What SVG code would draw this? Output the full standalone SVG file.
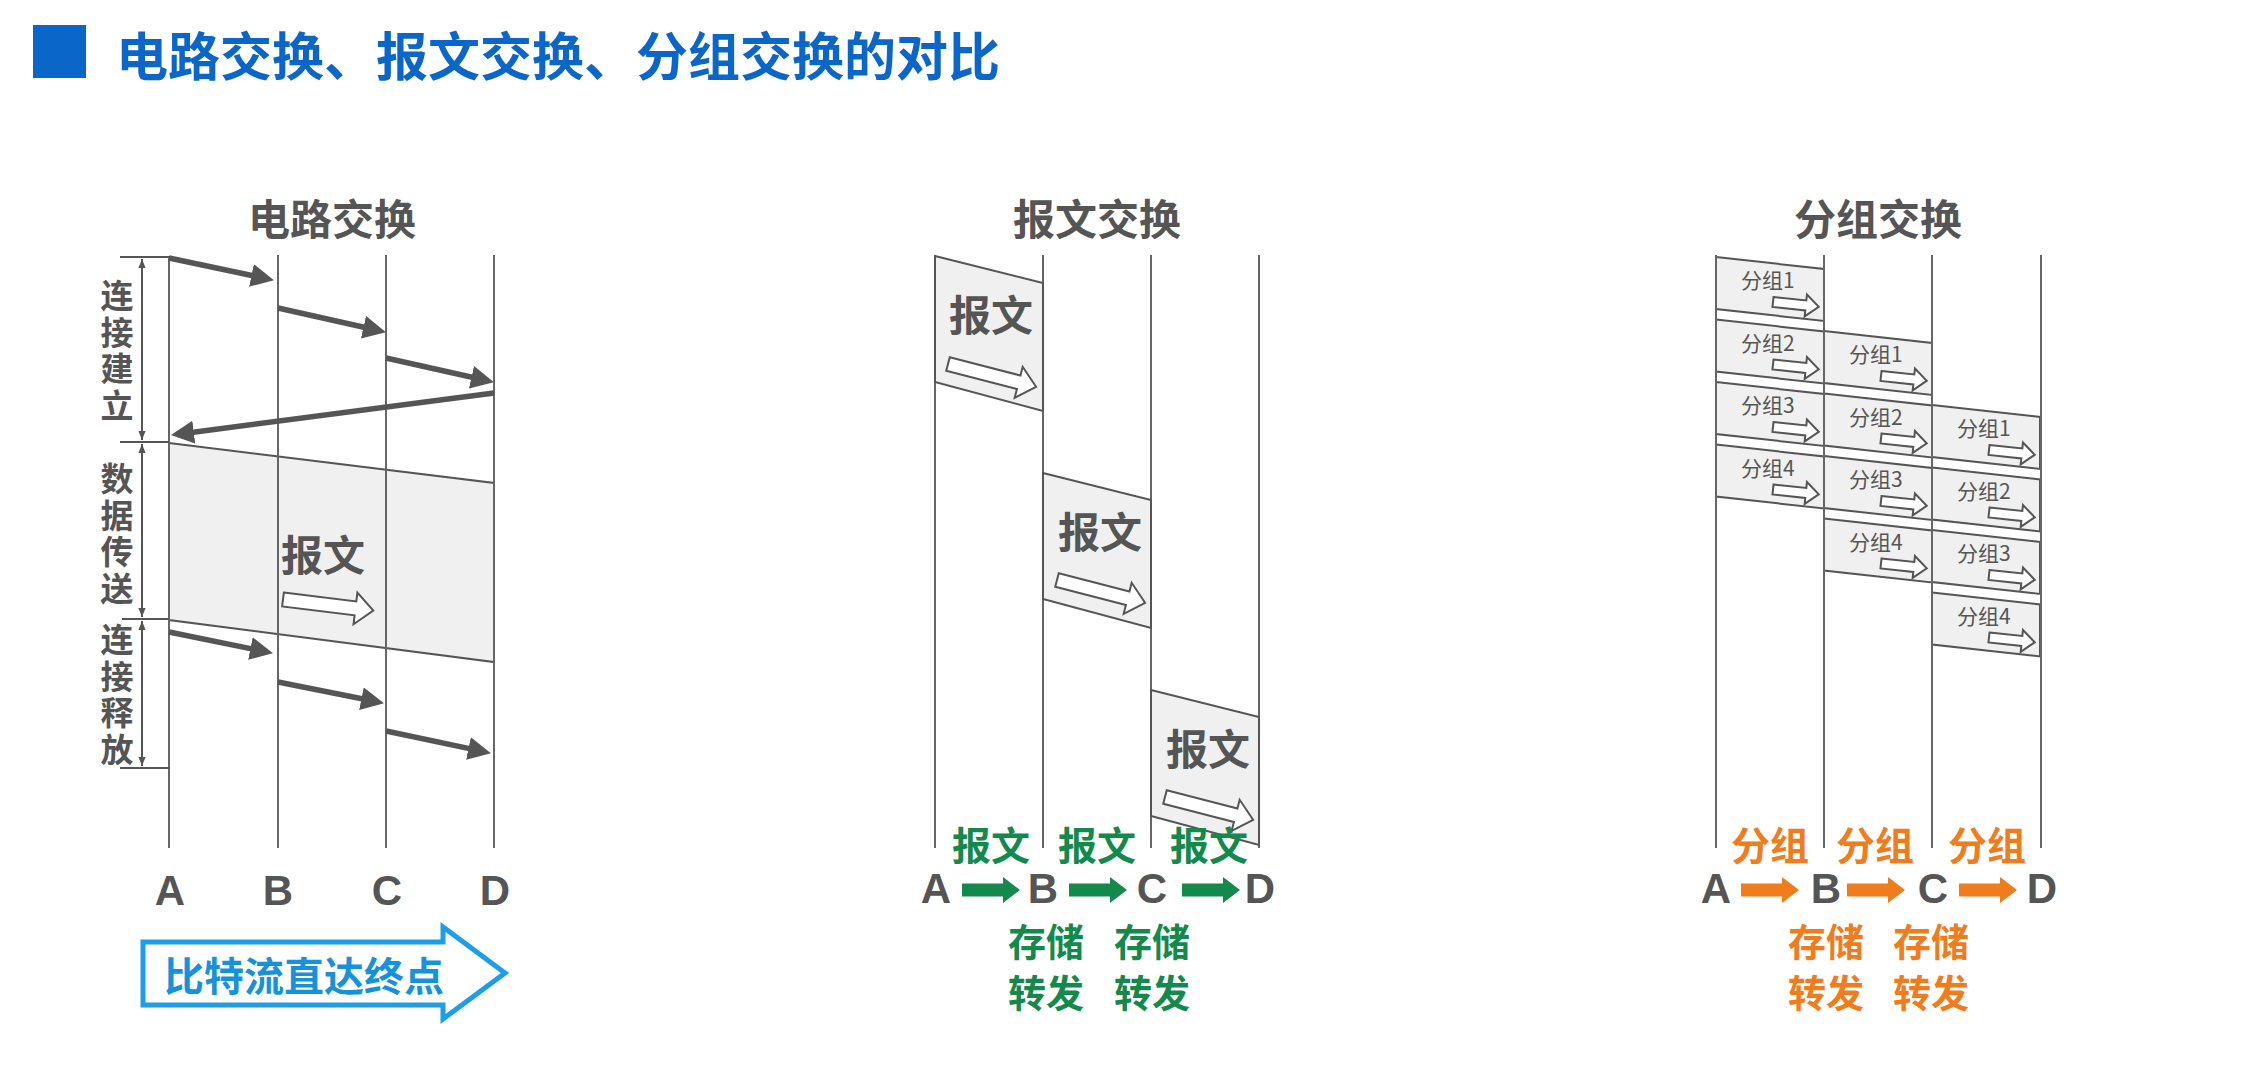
<svg xmlns="http://www.w3.org/2000/svg" xmlns:xlink="http://www.w3.org/1999/xlink" width="2255" height="1077" viewBox="0 0 2255 1077">
<style>
.cjk{font-family:"Noto Sans CJK SC","Noto Sans",sans-serif}
.lat{font-family:"Liberation Sans",Arial,sans-serif;font-weight:bold}
.vl{stroke:#666;stroke-width:2;fill:none}
.sec{font-size:42px;font-weight:bold;fill:#555;text-anchor:middle}
.vlab{font-size:33px;font-weight:bold;fill:#555;writing-mode:vertical-rl;letter-spacing:3.7px}
.node{font-size:42px;fill:#555;text-anchor:middle}
.thick{stroke:#555;stroke-width:5.5;fill:none;marker-end:url(#big)}
.brk{stroke:#555;stroke-width:2;fill:none;marker-start:url(#sm);marker-end:url(#sm)}
.tick{stroke:#555;stroke-width:2}
.box{fill:#f0f0f0;stroke:#555;stroke-width:2}
.harr{fill:#fff;stroke:#555;stroke-width:2}
.msgt{font-size:42px;font-weight:bold;fill:#555}
.pk{font-size:21px;fill:#555}
.green{fill:#138a4c}
.orange{fill:#f07c1c}
.lbl{font-size:39px;font-weight:bold;text-anchor:middle}
.lbl2{font-size:38px;font-weight:bold;text-anchor:middle}
</style>
<defs>
<marker id="big" markerUnits="userSpaceOnUse" markerWidth="23" markerHeight="23" viewBox="0 0 23 23" refX="12" refY="11.5" orient="auto"><path d="M0,0 L23,11.5 L0,23 Z" fill="#555"/></marker>
<marker id="sm" markerUnits="userSpaceOnUse" markerWidth="9" markerHeight="9" viewBox="0 0 10 10" refX="10" refY="5" orient="auto-start-reverse"><path d="M0,1 L10,5 L0,9 Z" fill="#555"/></marker>
<path id="harrow" d="M0,-7 H73 V-16 L91,0 L73,16 V7 H0 Z"/>
<path id="parrow" d="M0,-5 H33 V-11 L46,0 L33,11 V5 H0 Z"/>
<path id="blk" d="M0,-6.5 H41 V-13 L58,0 L41,13 V6.5 H0 Z"/>
<polygon id="msg" points="0,0 108,27 108,155 0,126"/>
<polygon id="pkt" points="0,0 108,12 108,64 0,52"/>
</defs>
<rect width="2255" height="1077" fill="#fff"/>

<g id="title">
<rect x="33" y="25" width="53" height="53" fill="#0a66c8"/>
<text class="cjk" x="116" y="76" font-size="52" font-weight="bold" fill="#0a66c8">电路交换、报文交换、分组交换的对比</text>
</g>

<!-- ========== Circuit switching ========== -->
<g id="circuit">
<text class="cjk sec" x="332" y="235">电路交换</text>
<g id="circuit-band">
<polygon class="box" points="169,443 494,483 494,662 169,620" stroke-width="1.5"/>
<text class="cjk msgt" x="281" y="571" font-size="44">报文</text>
<use href="#harrow" class="harr" transform="translate(283,599.5) rotate(7)"/>
</g>
<g id="circuit-lines">
<line class="vl" x1="169" y1="257" x2="169" y2="848"/>
<line class="vl" x1="278" y1="255" x2="278" y2="848"/>
<line class="vl" x1="386" y1="255" x2="386" y2="848"/>
<line class="vl" x1="494" y1="255" x2="494" y2="848"/>
</g>
<g id="circuit-bracket">
<line class="tick" x1="120" y1="257" x2="170" y2="257"/>
<line class="tick" x1="120" y1="442" x2="169" y2="442"/>
<line class="tick" x1="122" y1="619" x2="169" y2="619"/>
<line class="tick" x1="120" y1="768" x2="170" y2="768"/>
<line class="brk" x1="142" y1="259" x2="142" y2="440"/>
<line class="brk" x1="142" y1="444" x2="142" y2="617"/>
<line class="brk" x1="142" y1="621" x2="142" y2="766"/>
</g>
<g id="circuit-phase-labels" class="cjk vlab">
<text x="117" y="279">连接建立</text>
<text x="117" y="462">数据传送</text>
<text x="117" y="623">连接释放</text>
</g>
<g id="circuit-nodes" class="lat node">
<text x="170" y="905">A</text><text x="278" y="905">B</text><text x="387" y="905">C</text><text x="495" y="905">D</text>
</g>
<g id="circuit-bitstream">
<path d="M143,942 H443 V927 L505,973 L443,1019 V1005 H143 Z" fill="#fff" stroke="#1a9fe8" stroke-width="5" stroke-linejoin="miter"/>
<text class="cjk" x="164" y="991" font-size="40" font-weight="bold" fill="#1592da">比特流直达终点</text>
</g>
</g>

<g id="connectors">
<line class="thick" x1="169" y1="258" x2="263.2" y2="277.9"/>
<line class="thick" x1="278" y1="308" x2="375.2" y2="329.8"/>
<line class="thick" x1="386" y1="358" x2="483.2" y2="379.8"/>
<line class="thick" x1="494" y1="393" x2="181.9" y2="433.7"/>
<line class="thick" x1="169" y1="632" x2="262.2" y2="651"/>
<line class="thick" x1="278" y1="682" x2="373.2" y2="701"/>
<line class="thick" x1="386" y1="731" x2="480.2" y2="750.9"/>
</g>

<!-- ========== Message switching ========== -->
<g id="message">
<text class="cjk sec" x="1097" y="235">报文交换</text>
<g id="msg-lines">
<line class="vl" x1="935" y1="255" x2="935" y2="848"/>
<line class="vl" x1="1043" y1="255" x2="1043" y2="848"/>
<line class="vl" x1="1151" y1="255" x2="1151" y2="848"/>
<line class="vl" x1="1259" y1="255" x2="1259" y2="848"/>
</g>
<g id="msg-box-1" transform="translate(935,256)">
<use href="#msg" class="box"/>
<text class="cjk msgt" x="14" y="75">报文</text>
<use href="#harrow" class="harr" transform="translate(13,108) rotate(14.5)"/>
</g>
<g id="msg-box-2" transform="translate(1043,473)">
<use href="#msg" class="box"/>
<text class="cjk msgt" x="15" y="75">报文</text>
<use href="#harrow" class="harr" transform="translate(14,107) rotate(14.5)"/>
</g>
<g id="msg-box-3" transform="translate(1151,690)">
<use href="#msg" class="box"/>
<text class="cjk msgt" x="15" y="75">报文</text>
<use href="#harrow" class="harr" transform="translate(14,107) rotate(14.5)"/>
</g>
<g id="msg-flow">
<g class="cjk lbl green">
<text x="991" y="860">报文</text><text x="1097" y="860">报文</text><text x="1209" y="860">报文</text>
</g>
<g class="cjk lbl2 green">
<text x="1046" y="956">存储</text><text x="1152" y="956">存储</text>
<text x="1046" y="1007">转发</text><text x="1152" y="1007">转发</text>
</g>
<g class="lat node">
<text x="936" y="903">A</text><text x="1043" y="903">B</text><text x="1152" y="903">C</text><text x="1260" y="903">D</text>
</g>
<use href="#blk" class="green" transform="translate(962,890)"/>
<use href="#blk" class="green" transform="translate(1069,890)"/>
<use href="#blk" class="green" transform="translate(1182,890)"/>
</g>
</g>

<!-- ========== Packet switching ========== -->
<g id="packet">
<text class="cjk sec" x="1878" y="235">分组交换</text>
<g id="pkt-A">
<g transform="translate(1716,257)"><use href="#pkt" class="box"/><text class="cjk pk" x="25" y="31">分组1</text><use href="#parrow" class="harr" transform="translate(57,45) rotate(6)"/></g>
<g transform="translate(1716,319.5)"><use href="#pkt" class="box"/><text class="cjk pk" x="25" y="31">分组2</text><use href="#parrow" class="harr" transform="translate(57,45) rotate(6)"/></g>
<g transform="translate(1716,382)"><use href="#pkt" class="box"/><text class="cjk pk" x="25" y="31">分组3</text><use href="#parrow" class="harr" transform="translate(57,45) rotate(6)"/></g>
<g transform="translate(1716,444.5)"><use href="#pkt" class="box"/><text class="cjk pk" x="25" y="31">分组4</text><use href="#parrow" class="harr" transform="translate(57,45) rotate(6)"/></g>
</g>
<g id="pkt-B">
<g transform="translate(1824,331)"><use href="#pkt" class="box"/><text class="cjk pk" x="25" y="31">分组1</text><use href="#parrow" class="harr" transform="translate(57,45) rotate(6)"/></g>
<g transform="translate(1824,393.5)"><use href="#pkt" class="box"/><text class="cjk pk" x="25" y="31">分组2</text><use href="#parrow" class="harr" transform="translate(57,45) rotate(6)"/></g>
<g transform="translate(1824,456)"><use href="#pkt" class="box"/><text class="cjk pk" x="25" y="31">分组3</text><use href="#parrow" class="harr" transform="translate(57,45) rotate(6)"/></g>
<g transform="translate(1824,518.5)"><use href="#pkt" class="box"/><text class="cjk pk" x="25" y="31">分组4</text><use href="#parrow" class="harr" transform="translate(57,45) rotate(6)"/></g>
</g>
<g id="pkt-C">
<g transform="translate(1932,405)"><use href="#pkt" class="box"/><text class="cjk pk" x="25" y="31">分组1</text><use href="#parrow" class="harr" transform="translate(57,45) rotate(6)"/></g>
<g transform="translate(1932,467.5)"><use href="#pkt" class="box"/><text class="cjk pk" x="25" y="31">分组2</text><use href="#parrow" class="harr" transform="translate(57,45) rotate(6)"/></g>
<g transform="translate(1932,530)"><use href="#pkt" class="box"/><text class="cjk pk" x="25" y="31">分组3</text><use href="#parrow" class="harr" transform="translate(57,45) rotate(6)"/></g>
<g transform="translate(1932,592.5)"><use href="#pkt" class="box"/><text class="cjk pk" x="25" y="31">分组4</text><use href="#parrow" class="harr" transform="translate(57,45) rotate(6)"/></g>
</g>
<g id="pkt-lines">
<line class="vl" x1="1716" y1="255" x2="1716" y2="848"/>
<line class="vl" x1="1824" y1="255" x2="1824" y2="848"/>
<line class="vl" x1="1932" y1="255" x2="1932" y2="848"/>
<line class="vl" x1="2041" y1="255" x2="2041" y2="848"/>
</g>
<g id="pkt-flow">
<g class="cjk lbl orange">
<text x="1770" y="860">分组</text><text x="1875" y="860">分组</text><text x="1987" y="860">分组</text>
</g>
<g class="cjk lbl2 orange">
<text x="1826" y="956">存储</text><text x="1931" y="956">存储</text>
<text x="1826" y="1007">转发</text><text x="1931" y="1007">转发</text>
</g>
<g class="lat node">
<text x="1716" y="903">A</text><text x="1826" y="903">B</text><text x="1933" y="903">C</text><text x="2042" y="903">D</text>
</g>
<use href="#blk" class="orange" transform="translate(1741,890)"/>
<use href="#blk" class="orange" transform="translate(1847,890)"/>
<use href="#blk" class="orange" transform="translate(1959,890)"/>
</g>
</g>
</svg>
